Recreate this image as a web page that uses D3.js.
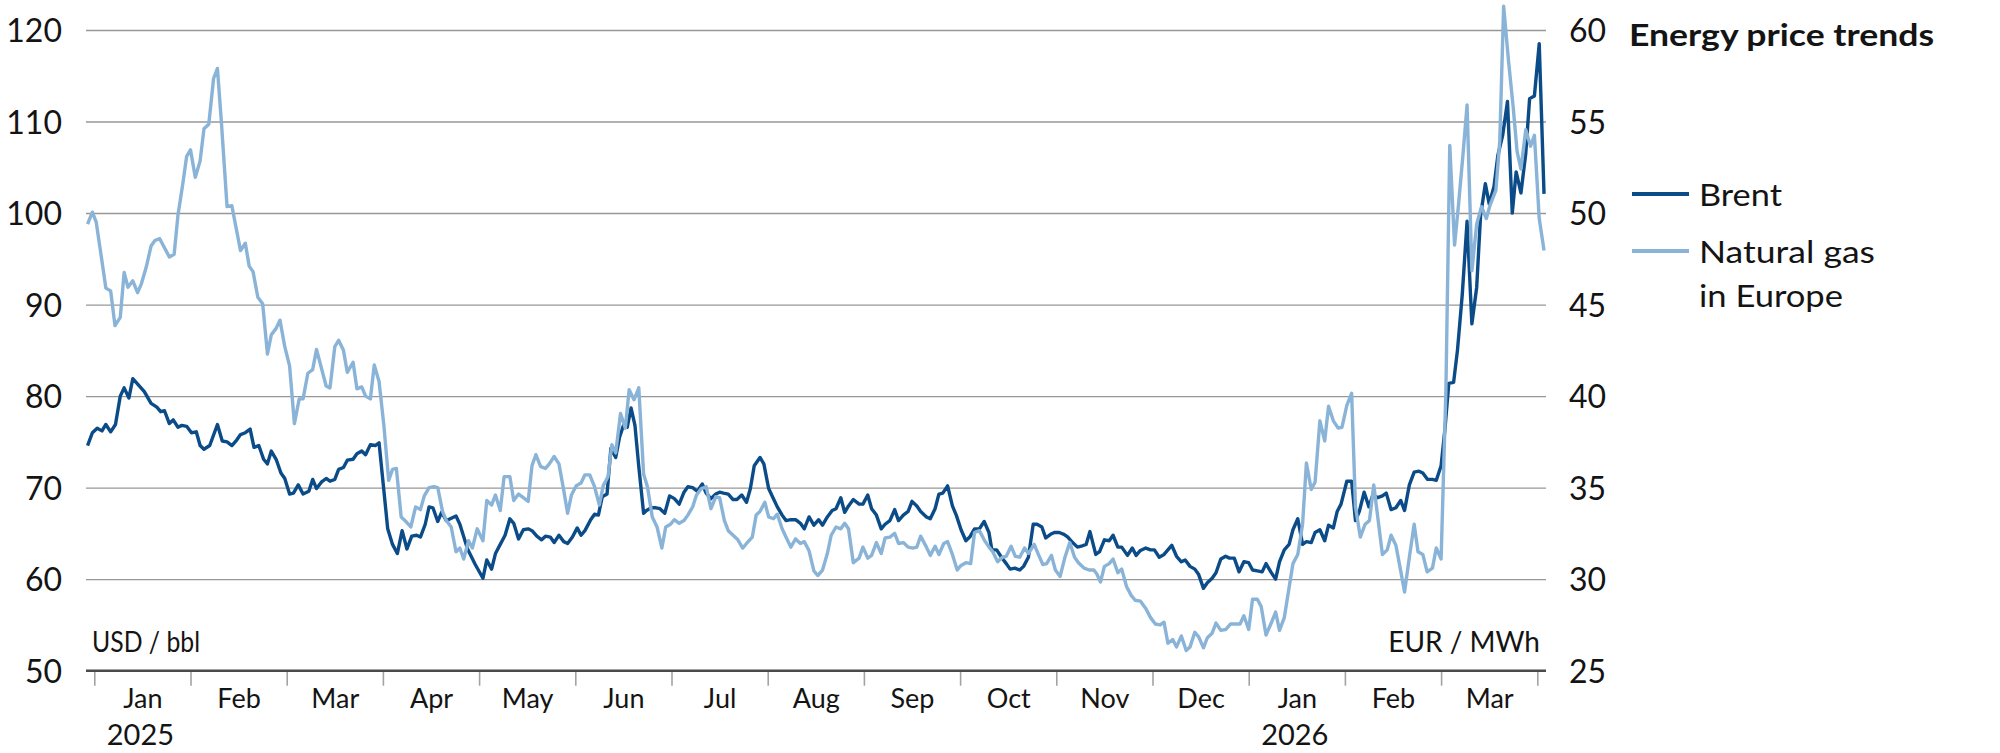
<!DOCTYPE html>
<html>
<head>
<meta charset="utf-8">
<script src="https://cdn.jsdelivr.net/npm/d3@7"></script>
<style>
  html, body { margin: 0; padding: 0; background: #ffffff; }
  svg { display: block; }
  text { font-family: Lato, "Open Sans", sans-serif; fill: #141414; }
</style>
</head>
<body>
<svg id="chart" width="2000" height="753"></svg>
<script>
// ---------- DATA ----------
// Dates are expressed as month positions (0 = 1 Jan 2025, 12 = 1 Jan 2026)
const monthLabels = ["Jan","Feb","Mar","Apr","May","Jun","Jul","Aug","Sep","Oct","Nov","Dec","Jan","Feb","Mar"];
const yearLabels = ["2025","2026"];
const yearMonthIndex = [0, 12];
const leftTicks = [50,60,70,80,90,100,110,120];
const rightTicks = [25,30,35,40,45,50,55,60];
const seriesNames = ["Brent","Natural gas","in Europe"];
const titleText = "Energy price trends";
const leftUnit = "USD / bbl";
const rightUnit = "EUR / MWh";

// Brent, USD / bbl
const brentDate = [-0.07,-0.02,0.03,0.08,0.12,0.17,0.22,0.27,0.31,0.36,0.40,0.46,0.52,0.59,0.65,0.69,0.73,0.78,0.82,0.87,0.91,0.96,1.01,1.06,1.10,1.14,1.20,1.28,1.33,1.38,1.43,1.48,1.52,1.57,1.62,1.66,1.71,1.76,1.80,1.84,1.89,1.94,1.98,2.03,2.07,2.12,2.17,2.23,2.27,2.31,2.36,2.41,2.45,2.50,2.54,2.59,2.63,2.69,2.73,2.78,2.82,2.87,2.92,2.96,3.01,3.05,3.10,3.15,3.20,3.25,3.30,3.35,3.39,3.44,3.48,3.52,3.57,3.61,3.66,3.70,3.76,
3.80,3.88,3.96,4.04,4.08,4.13,4.17,4.22,4.27,4.32,4.36,4.41,4.46,4.51,4.55,4.60,4.65,4.69,4.74,4.78,4.83,4.88,4.92,4.97,5.02,5.06,5.10,5.16,5.20,5.24,5.28,5.33,5.37,5.42,5.46,5.50,5.54,5.58,5.62,5.66,5.71,5.74,5.79,5.84,5.88,5.93,5.98,6.03,6.08,6.13,6.17,6.22,6.27,6.32,6.36,6.41,6.46,6.50,6.54,6.59,6.64,6.68,6.73,6.78,6.82,6.86,6.92,6.96,7.01,7.05,7.10,7.15,7.19,7.24,7.29,7.34,7.38,7.43,7.48,7.53,7.57,7.62,7.67,7.71,
7.76,7.80,7.84,7.89,7.95,7.99,8.04,8.08,8.13,8.18,8.22,8.27,8.32,8.36,8.41,8.46,8.50,8.55,8.59,8.65,8.69,8.74,8.78,8.82,8.87,8.92,8.96,9.01,9.06,9.10,9.15,9.20,9.25,9.30,9.33,9.38,9.43,9.48,9.52,9.57,9.62,9.66,9.71,9.76,9.80,9.85,9.89,9.94,9.98,10.03,10.08,10.12,10.17,10.22,10.26,10.31,10.35,10.41,10.45,10.50,10.55,10.59,10.64,10.68,10.74,10.79,10.83,10.87,10.93,10.98,11.02,11.07,11.12,11.16,11.20,11.25,11.30,11.34,11.39,11.44,11.48,
11.53,11.57,11.62,11.66,11.71,11.76,11.80,11.85,11.90,11.95,12.00,12.04,12.09,12.14,12.18,12.23,12.28,12.32,12.37,12.42,12.46,12.51,12.56,12.60,12.65,12.69,12.74,12.79,12.83,12.88,12.92,12.96,13.02,13.07,13.11,13.15,13.20,13.25,13.29,13.34,13.39,13.43,13.48,13.53,13.58,13.62,13.67,13.72,13.77,13.81,13.86,13.91,13.95,14.00,14.04,14.08,14.13,14.17,14.22,14.27,14.32,14.37,14.41,14.46,14.50,14.55,14.59,14.64,14.69,14.74,14.78,14.83,14.88,14.92,14.97,15.02,15.07];
const brentValue = [74.6,76.0,76.5,76.2,76.9,76.1,76.9,80.0,80.9,79.8,81.9,81.2,80.5,79.2,78.8,78.3,78.4,77.0,77.4,76.6,76.8,76.7,76.0,76.1,74.6,74.2,74.6,76.9,75.1,75.0,74.6,75.2,75.8,76.0,76.4,74.4,74.6,73.1,72.6,74.0,73.1,71.6,71.0,69.3,69.4,70.3,69.3,69.6,70.9,69.9,70.6,71.0,70.7,70.9,72.0,72.2,73.0,73.1,73.7,74.0,73.6,74.7,74.6,74.9,69.7,65.5,63.8,62.8,65.3,63.3,64.7,64.8,64.6,66.0,67.9,67.8,66.3,67.3,66.4,66.6,66.9,
66.0,63.3,61.6,60.1,62.1,61.1,62.8,63.8,64.8,66.6,66.1,64.4,65.4,65.5,65.3,64.7,64.3,64.7,64.6,64.0,64.8,64.1,63.9,64.6,65.6,64.8,65.3,66.5,67.1,67.0,69.0,69.3,74.3,73.3,75.5,76.8,76.6,78.7,76.8,72.3,67.2,67.5,67.8,67.8,67.7,67.2,69.1,68.8,68.2,69.5,70.1,70.0,69.6,70.4,69.4,68.8,69.3,69.5,69.4,69.3,68.7,68.7,69.2,68.4,69.9,72.4,73.3,72.6,69.9,69.0,67.9,67.0,66.4,66.5,66.5,66.1,65.5,66.8,65.9,66.5,65.9,66.8,67.5,67.7,
68.9,67.3,68.0,68.7,68.2,68.2,69.2,67.7,67.0,65.5,66.0,66.4,67.6,66.4,67.0,67.4,68.5,68.0,67.4,66.8,66.6,67.7,69.3,69.4,70.2,68.0,67.0,65.4,64.2,64.6,65.5,65.5,66.3,65.1,63.2,63.2,62.4,61.7,61.1,61.2,61.0,61.4,62.4,66.0,66.0,65.7,64.5,64.9,65.1,65.1,64.9,64.6,64.0,63.5,63.6,63.8,65.2,62.7,63.0,64.3,64.2,64.8,63.5,63.5,62.6,63.4,62.6,63.1,63.4,63.2,63.2,62.4,62.7,63.2,63.7,62.5,61.9,62.1,61.4,61.1,60.5,
59.0,59.6,60.1,60.7,62.2,62.5,62.3,62.3,60.8,61.9,61.8,61.0,60.9,60.8,61.7,60.8,60.0,61.9,63.2,63.8,65.4,66.6,63.8,64.1,64.0,65.1,65.4,64.2,65.9,65.6,67.4,68.2,70.7,70.7,66.4,67.4,69.5,67.9,69.2,68.9,69.1,69.4,67.6,67.8,68.6,67.5,70.3,71.7,71.8,71.6,70.9,70.9,70.8,72.4,76.4,81.4,81.5,85.0,91.1,99.1,87.9,91.9,99.7,103.2,101.0,102.9,106.3,108.5,112.2,100.0,104.5,102.2,106.5,112.5,112.8,118.5,102.1];

// Natural gas in Europe, EUR / MWh
const gasDate = [-0.07,-0.02,0.02,0.09,0.12,0.17,0.215,0.27,0.31,0.35,0.40,0.45,0.49,0.54,0.59,0.63,0.68,0.73,0.78,0.83,0.87,0.92,0.96,1.00,1.05,1.10,1.14,1.19,1.24,1.28,1.32,1.38,1.43,1.47,1.52,1.57,1.61,1.65,1.70,1.75,1.80,1.84,1.89,1.93,1.98,2.03,2.08,2.13,2.17,2.22,2.27,2.31,2.36,2.41,2.45,2.50,2.54,2.59,2.63,2.69,2.73,2.78,2.82,2.87,2.91,2.96,3.01,3.06,3.10,3.14,3.19,3.24,3.29,3.34,3.39,3.43,3.48,3.53,3.57,3.62,3.66,3.71,3.76,
3.80,3.84,3.89,3.93,3.98,4.04,4.08,4.13,4.17,4.22,4.26,4.32,4.36,4.41,4.46,4.51,4.55,4.59,4.64,4.69,4.73,4.78,4.83,4.88,4.92,4.96,5.01,5.06,5.10,5.15,5.20,5.25,5.29,5.34,5.38,5.42,5.47,5.52,5.56,5.61,5.66,5.71,5.75,5.80,5.85,5.90,5.94,5.99,6.03,6.08,6.13,6.17,6.22,6.26,6.31,6.36,6.41,6.46,6.50,6.55,6.59,6.64,6.69,6.74,6.78,6.84,6.88,6.92,6.97,7.01,7.06,7.10,7.15,7.19,7.24,7.29,7.34,7.38,7.43,7.48,7.52,7.57,7.62,7.66,7.71,
7.76,7.80,7.84,7.89,7.95,7.99,8.04,8.08,8.13,8.18,8.22,8.27,8.32,8.36,8.41,8.46,8.51,8.55,8.59,8.65,8.69,8.74,8.78,8.83,8.87,8.92,8.97,9.01,9.06,9.11,9.15,9.20,9.25,9.30,9.34,9.39,9.44,9.48,9.53,9.574,9.62,9.67,9.71,9.77,9.81,9.86,9.90,9.95,9.99,10.04,10.09,10.14,10.19,10.23,10.29,10.34,10.39,10.42,10.46,10.50,10.55,10.59,10.64,10.68,10.73,10.78,10.82,10.875,10.93,10.98,11.03,11.08,11.12,11.16,11.21,11.25,11.30,11.35,11.39,11.44,11.48,
11.53,11.57,11.62,11.66,11.71,11.76,11.81,11.86,11.91,11.95,12.00,12.04,12.09,12.13,12.18,12.23,12.28,12.32,12.37,12.42,12.46,12.51,12.56,12.60,12.65,12.69,12.74,12.79,12.83,12.88,12.93,12.97,13.02,13.07,13.11,13.16,13.21,13.255,13.30,13.34,13.39,13.44,13.48,13.53,13.58,13.62,13.67,13.72,13.76,13.81,13.855,13.91,13.95,14.00,14.05,14.09,14.14,14.18,14.23,14.27,14.32,14.37,14.42,14.47,14.51,14.57,14.61,14.65,14.70,14.75,14.79,14.83,14.88,14.93,14.97,15.02,15.07];
const gasValue = [49.4,50.05,49.5,47.0,45.9,45.75,43.85,44.3,46.75,45.95,46.3,45.65,46.15,47.05,48.2,48.5,48.6,48.1,47.6,47.75,49.9,51.6,53.1,53.45,51.95,52.85,54.6,54.85,57.35,57.9,55.05,50.35,50.4,49.3,47.95,48.35,47.1,46.8,45.4,45.05,42.3,43.35,43.7,44.15,42.7,41.65,38.5,39.85,39.85,41.25,41.45,42.55,41.55,40.55,40.45,42.7,43.05,42.5,41.3,41.85,40.4,40.5,40.0,39.85,41.7,40.8,38.4,35.4,36.0,36.05,33.4,33.15,32.85,33.95,33.8,34.55,35.0,35.05,35.0,33.7,33.2,32.85,31.5,
31.7,31.1,32.1,31.7,32.75,32.1,34.3,34.05,34.6,33.75,35.6,35.6,34.3,34.65,34.45,34.25,36.2,36.8,36.15,36.05,36.3,36.7,36.3,34.85,33.6,34.6,35.1,35.25,35.7,35.7,35.05,34.05,35.1,35.6,37.35,36.9,39.05,38.25,40.35,39.8,40.45,35.75,35.05,33.4,32.85,31.7,32.85,33.0,33.25,33.05,33.2,33.5,33.95,34.6,34.95,35.05,33.85,34.5,34.45,33.2,32.65,32.4,32.15,31.7,31.95,32.3,33.5,33.7,34.2,33.4,33.3,33.55,32.75,32.3,31.75,32.2,31.95,32.05,31.55,30.45,30.2,30.5,31.4,32.4,32.85,
32.75,33.05,32.75,30.9,31.15,31.75,31.15,31.3,32.0,31.4,32.25,32.3,32.5,31.95,32.0,31.75,31.7,31.75,32.35,31.75,31.3,31.8,31.35,31.95,32.05,31.35,30.5,30.75,30.9,30.85,32.55,32.65,32.15,31.75,31.5,30.95,31.2,31.25,31.8,31.25,31.2,31.7,31.4,31.9,31.4,30.8,30.85,31.3,30.5,30.15,31.2,32.0,31.2,30.9,30.6,30.5,30.5,30.3,29.85,30.7,30.85,31.1,30.35,30.55,29.6,29.1,28.85,28.8,28.4,27.9,27.55,27.5,27.65,26.5,26.7,26.3,26.9,26.1,26.3,27.1,26.85,
26.25,26.8,27.05,27.6,27.2,27.25,27.55,27.55,27.55,28.0,27.25,28.9,28.9,28.5,26.95,27.55,28.2,27.2,27.9,29.55,30.85,31.35,33.0,36.35,34.9,35.3,38.65,37.55,39.45,38.65,38.25,38.3,39.5,40.15,33.95,32.3,33.0,33.2,35.15,33.45,31.35,31.6,32.4,31.85,30.45,29.3,31.2,33.0,31.5,31.35,30.4,30.6,31.7,31.1,40.35,53.7,48.25,50.4,53.35,55.9,46.85,49.4,50.35,49.7,50.45,51.25,53.95,61.3,58.35,55.75,53.35,52.4,54.55,53.65,54.25,49.7,47.95];

// ---------- CHART ----------
const svg = d3.select("#chart");
const plotLeft = 86, plotRight = 1546;
const yTop = 30, yBottom = 670.7;

const x = d3.scaleLinear().domain([0, 15]).range([94.3, 1537.3]);
const yL = d3.scaleLinear().domain([50, 120]).range([yBottom, yTop]);
const yR = d3.scaleLinear().domain([25, 60]).range([yBottom, yTop]);

const colBrent = "#0b4c88";
const colGas = "#8ab3d8";
const gridCol = "#979797";

// gridlines
const grid = svg.append("g").attr("transform", `translate(${plotLeft},0)`)
  .call(d3.axisLeft(yL).tickValues(leftTicks.filter(v => v > 50)).tickSize(-(plotRight - plotLeft)).tickFormat(""));
grid.select(".domain").remove();
grid.selectAll("line").attr("stroke", gridCol).attr("stroke-width", 1.4);

// month tick marks
const xt = svg.append("g").attr("transform", `translate(0,${yBottom})`)
  .call(d3.axisBottom(x).tickValues(d3.range(0, 16)).tickSize(15).tickFormat(""));
xt.select(".domain").remove();
xt.selectAll("line").attr("stroke", "#a3a3a3").attr("stroke-width", 1.6);

// baseline
svg.append("line").attr("x1", plotLeft).attr("x2", plotRight)
  .attr("y1", yL(50)).attr("y2", yL(50))
  .attr("stroke", "#4a4a4a").attr("stroke-width", 2.6);

// month labels
const xm = svg.append("g").attr("transform", `translate(0,${yBottom})`)
  .call(d3.axisBottom(x).tickValues(d3.range(0, 15).map(i => i + 0.5)).tickSize(0).tickPadding(0)
    .tickFormat((d, i) => monthLabels[i]));
xm.select(".domain").remove();
xm.selectAll("text").attr("dy", null).attr("y", 37).attr("font-size", 27)
  .style("font-family", "Lato, sans-serif").attr("fill", "#141414");

// year labels
svg.append("g").selectAll("text").data(yearLabels).join("text")
  .attr("x", (d, i) => x(yearMonthIndex[i] + 0.5) - 2)
  .attr("y", 745)
  .attr("text-anchor", "middle")
  .attr("font-size", 29)
  .text(d => d);

// left axis labels
const la = svg.append("g").attr("transform", `translate(62,0)`)
  .call(d3.axisLeft(yL).tickValues(leftTicks).tickSize(0).tickPadding(0).tickFormat(d3.format("d")));
la.select(".domain").remove();
la.selectAll("text").attr("dy", "0.36em").attr("font-size", 32)
  .style("font-family", "Lato, sans-serif").attr("fill", "#141414");

// right axis labels
const ra = svg.append("g").attr("transform", `translate(1569,0)`)
  .call(d3.axisRight(yR).tickValues(rightTicks).tickSize(0).tickPadding(0).tickFormat(d3.format("d")));
ra.select(".domain").remove();
ra.selectAll("text").attr("dy", "0.36em").attr("font-size", 32)
  .style("font-family", "Lato, sans-serif").attr("fill", "#141414");

// units
svg.append("text").attr("x", 92).attr("y", 652).attr("font-size", 28)
  .attr("textLength", 108).attr("lengthAdjust", "spacingAndGlyphs").text(leftUnit);
svg.append("text").attr("x", 1540).attr("y", 652).attr("font-size", 28).attr("text-anchor", "end").text(rightUnit);

// lines
const brent = brentDate.map((d, i) => ({ m: d, v: brentValue[i] }));
const gas = gasDate.map((d, i) => ({ m: d, v: gasValue[i] }));

svg.append("path").datum(brent)
  .attr("fill", "none").attr("stroke", colBrent).attr("stroke-width", 3.4)
  .attr("stroke-linejoin", "round")
  .attr("d", d3.line().x(d => x(d.m)).y(d => yL(d.v)));

svg.append("path").datum(gas)
  .attr("fill", "none").attr("stroke", colGas).attr("stroke-width", 3.4)
  .attr("stroke-linejoin", "round")
  .attr("d", d3.line().x(d => x(d.m)).y(d => yR(d.v)));

// title
svg.append("text").attr("x", 1629).attr("y", 46).attr("font-size", 31).attr("font-weight", 700)
  .attr("textLength", 305).attr("lengthAdjust", "spacingAndGlyphs")
  .text(titleText);

// legend
const lg = svg.append("g");
lg.append("line").attr("x1", 1632).attr("x2", 1689).attr("y1", 194).attr("y2", 194)
  .attr("stroke", colBrent).attr("stroke-width", 4);
lg.append("text").attr("x", 1699).attr("y", 206).attr("font-size", 31)
  .attr("textLength", 83).attr("lengthAdjust", "spacingAndGlyphs").text(seriesNames[0]);
lg.append("line").attr("x1", 1632).attr("x2", 1689).attr("y1", 251).attr("y2", 251)
  .attr("stroke", colGas).attr("stroke-width", 4);
lg.append("text").attr("x", 1699).attr("y", 263).attr("font-size", 31)
  .attr("textLength", 176).attr("lengthAdjust", "spacingAndGlyphs").text(seriesNames[1]);
lg.append("text").attr("x", 1699).attr("y", 307).attr("font-size", 31)
  .attr("textLength", 144).attr("lengthAdjust", "spacingAndGlyphs").text(seriesNames[2]);
</script>
</body>
</html>
